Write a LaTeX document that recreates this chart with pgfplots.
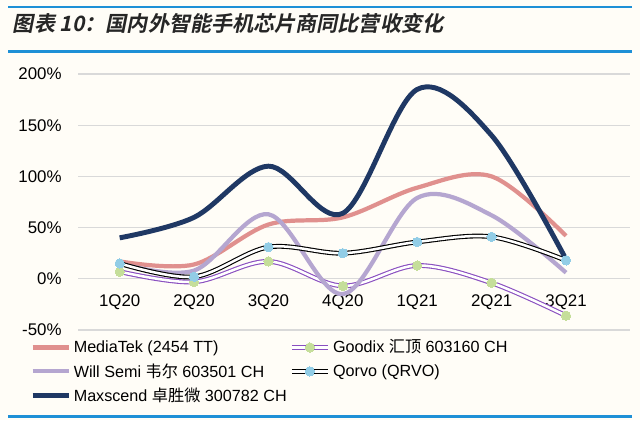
\documentclass[border=0pt]{standalone}
\usepackage{fontspec}
\setmainfont{Liberation Sans}
\newfontfamily\cjk{Noto Sans CJK SC}
\newfontfamily\cjkb[FakeSlant=0.2]{Noto Sans CJK SC Bold}
\usepackage{pgfplots}
\pgfplotsset{compat=1.18}
\definecolor{bg}{HTML}{FFFDF7}
\definecolor{ruleblue}{RGB}{30,144,214}
\definecolor{mtk}{HTML}{E0908E}
\definecolor{will}{HTML}{B5A6D0}
\definecolor{maxs}{HTML}{1F3864}
\definecolor{gdx}{HTML}{8A4FC0}
\definecolor{gmark}{HTML}{C5DE9A}
\definecolor{qmark}{HTML}{92CDE6}
\begin{document}
\begin{tikzpicture}
\fill[bg] (0,0) rectangle (16cm,10.5cm);
\fill[ruleblue] (0.2cm,10.29cm) rectangle (15.8cm,10.36cm);
\fill[ruleblue] (0.2cm,9.17cm) rectangle (15.8cm,9.24cm);
\fill[ruleblue] (0.2cm,0.05cm) rectangle (15.8cm,0.12cm);
\node[anchor=west,font=\cjkb\fontsize{15}{18}\selectfont,color=black!85] at (0.2cm,9.92cm) {图表 10：国内外智能手机芯片商同比营收变化};
\begin{axis}[at={(1.95cm,2.25cm)},anchor=south west,scale only axis,
 width=13.8cm,height=6.4cm,
 xmin=-0.56,xmax=6.86,ymin=-50,ymax=200,
 axis x line=middle, axis y line=left,
 axis line style={draw=none},
 xtick={0,...,6}, xticklabels={1Q20,2Q20,3Q20,4Q20,1Q21,2Q21,3Q21},
 x tick label style={yshift=-6pt},
 ytick={-50,0,50,100,150,200},
 yticklabel={\pgfmathprintnumber{\tick}\%},
 /pgf/number format/assume math mode=true,
 tick style={draw=none},
 ymajorgrids, grid style={gray!30,line width=0.8pt},
 tick label style={font=\fontsize{12}{14}\selectfont},
 yticklabel style={xshift=-6pt},
 every axis plot/.append style={smooth,tension=0.55},
 legend columns=2,
 legend style={at={(-0.095,-0.015)},anchor=north west,draw=none,fill=none,
   font=\fontsize{11.5}{13}\selectfont,row sep=2pt},
 legend cell align=left,
 legend image code/.code={\draw[mark repeat=2,mark phase=2,#1] plot coordinates {(0cm,0cm) (0.45cm,0cm) (0.9cm,0cm)};},
]
\addplot[mtk,line width=3pt,no marks] coordinates {(0,17)(1,14)(2,53)(3,60)(4,89)(5,100)(6,42)};
\addlegendentry{\makebox[4.9cm][l]{MediaTek (2454 TT)}}
\addplot[gdx,line width=0.8pt,double=white,double distance=1.8pt,mark=*,mark size=3.3pt,mark options={fill=gmark,draw=gmark,double=none,line width=0pt}] coordinates {(0,7)(1,-3)(2,17)(3,-7)(4,13)(5,-4)(6,-36)};
\addlegendentry{Goodix {\cjk 汇顶} 603160 CH}
\addplot[will,line width=3pt,no marks] coordinates {(0,15)(1,8)(2,63)(3,-15)(4,79)(5,62)(6,6)};
\addlegendentry{Will Semi {\cjk 韦尔} 603501 CH}
\addplot[black,line width=0.8pt,double=white,double distance=1.8pt,mark=*,mark size=3.3pt,mark options={fill=qmark,draw=qmark,double=none,line width=0pt}] coordinates {(0,15)(1,2)(2,31)(3,25)(4,36)(5,41)(6,18)};
\addlegendentry{Qorvo (QRVO)}
\addplot[maxs,line width=3.5pt,no marks] coordinates {(0,40)(1,60)(2,110)(3,64)(4,185)(5,140)(6,19)};
\addlegendentry{Maxscend {\cjk 卓胜微} 300782 CH}
\end{axis}
\end{tikzpicture}
\end{document}
